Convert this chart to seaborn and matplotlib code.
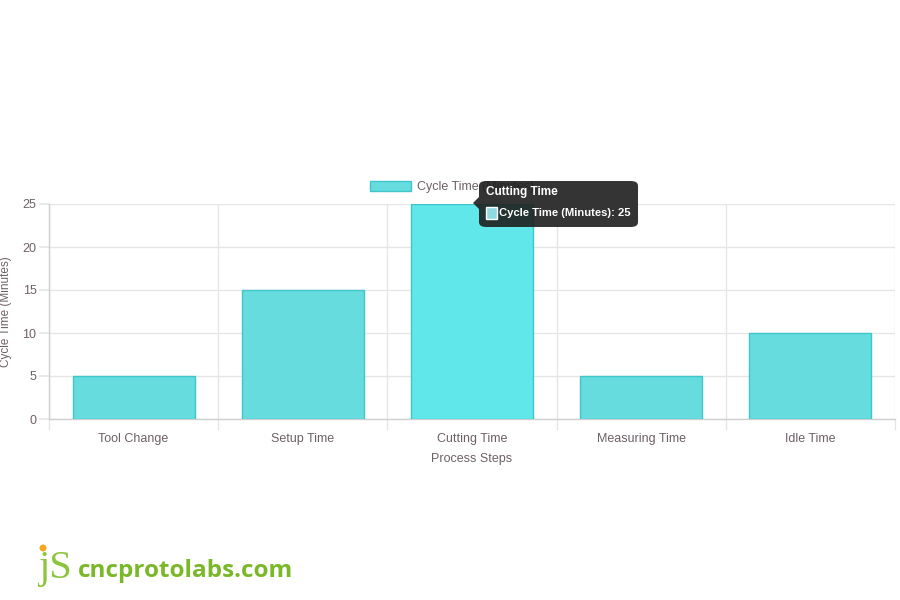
import matplotlib
matplotlib.use("Agg")
import matplotlib.pyplot as plt
import seaborn as sns
import pandas as pd
from matplotlib.patches import Patch, FancyBboxPatch, Polygon, Rectangle, Ellipse

sns.set_theme(style="white")
plt.rcParams['font.family'] = ['Liberation Sans', 'DejaVu Sans']

# data
steps = ['Tool Change', 'Setup Time', 'Cutting Time', 'Measuring Time', 'Idle Time']
cycle_minutes = [5, 15, 25, 5, 10]
hovered = 'Cutting Time'

df = pd.DataFrame({'step': steps, 'minutes': cycle_minutes})

bar_color = '#66dcdf'
hover_color = '#5fe7ea'
edge_color = '#3fc6c9'
text_color = '#6e6068'
grid_color = '#e6e6e6'

W, H = 900, 600
fig = plt.figure(figsize=(9, 6), dpi=100)


def px(x, y):
    return x / W, 1 - y / H


ax = fig.add_axes([49 / W, 1 - 419 / H, (895 - 49) / W, (419 - 204) / H])

palette = {s: (hover_color if s == hovered else bar_color) for s in steps}
sns.barplot(data=df, x='step', y='minutes', hue='step', palette=palette,
            width=0.72, edgecolor=edge_color, linewidth=1, legend=False,
            saturation=1, ax=ax, zorder=3)

ax.set_xlim(-0.5, len(steps) - 0.5)
ax.set_ylim(0, 25)
ax.set_yticks([0, 5, 10, 15, 20, 25])
ax.set_xticks(range(len(steps)))
ax.set_xticks([i - 0.5 for i in range(len(steps) + 1)], minor=True)

ax.tick_params(axis='y', which='major', length=7, color=grid_color, pad=2,
               labelsize=9, labelcolor=text_color, left=True)
ax.tick_params(axis='x', which='major', length=0, pad=10,
               labelsize=9, labelcolor=text_color)
ax.tick_params(axis='x', which='minor', length=8, color=grid_color, bottom=True)

ax.grid(True, axis='y', which='major', color=grid_color, linewidth=1, zorder=0)
ax.grid(True, axis='x', which='minor', color=grid_color, linewidth=1, zorder=0)

for side in ['top', 'right']:
    ax.spines[side].set_visible(False)
for side in ['left', 'bottom']:
    ax.spines[side].set_color('#cfcfcf')
    ax.spines[side].set_linewidth(1)

ax.set_xlabel('Process Steps', fontsize=9, color=text_color, labelpad=6)
ax.set_ylabel('Cycle Time (Minutes)', fontsize=8.5, color=text_color)
ax.yaxis.set_label_coords(-0.044, 0.5)

# legend (partly hidden under the tooltip, as in the screenshot)
handle = Patch(facecolor=bar_color, edgecolor=edge_color, linewidth=1,
               label='Cycle Time (Minutes)')
fig.legend(handles=[handle], loc='center', bbox_to_anchor=px(452, 187),
           frameon=False, handlelength=3.3, handleheight=0.9, fontsize=9,
           labelcolor=text_color, handletextpad=0.5)

# tooltip
tip = FancyBboxPatch(px(479, 227), (638 - 479) / W, (227 - 181) / H,
                     boxstyle='round,pad=0,rounding_size=0.008',
                     transform=fig.transFigure, facecolor='#1e1e1e',
                     edgecolor='none', alpha=0.9, zorder=10)
fig.patches.append(tip)
caret = Polygon([px(479, 197), px(473, 203), px(479, 209)], closed=True,
                transform=fig.transFigure, facecolor='#1e1e1e',
                edgecolor='none', alpha=0.9, zorder=10)
fig.patches.append(caret)
sq = Rectangle(px(486, 219), 11 / W, 12 / H, transform=fig.transFigure,
               facecolor='#8fd9e0', edgecolor='white', linewidth=1, zorder=11)
fig.patches.append(sq)
fig.text(*px(486, 192), hovered, color='white', fontsize=8.5, fontweight='bold',
         va='center', ha='left', zorder=12)
fig.text(*px(499, 213), 'Cycle Time (Minutes): %d' % cycle_minutes[steps.index(hovered)],
         color='white', fontsize=8.1, fontweight='bold', va='center', ha='left', zorder=12)

# logo
fig.text(*px(38, 578), 'jS', family=['Liberation Serif', 'DejaVu Serif'],
         fontsize=29, color='#8cc43c', va='baseline', ha='left')
fig.text(*px(78, 577), 'cncprotolabs.com', family=['Open Sans', 'DejaVu Sans'],
         fontsize=17.5, fontweight='bold', color='#7ab829', va='baseline', ha='left')
fig.patches.append(Ellipse(px(43, 548), 7 / W, 7 / H, transform=fig.transFigure,
                           facecolor='#f5a623', edgecolor='none', zorder=5))

fig.savefig('out.png', dpi=100)
